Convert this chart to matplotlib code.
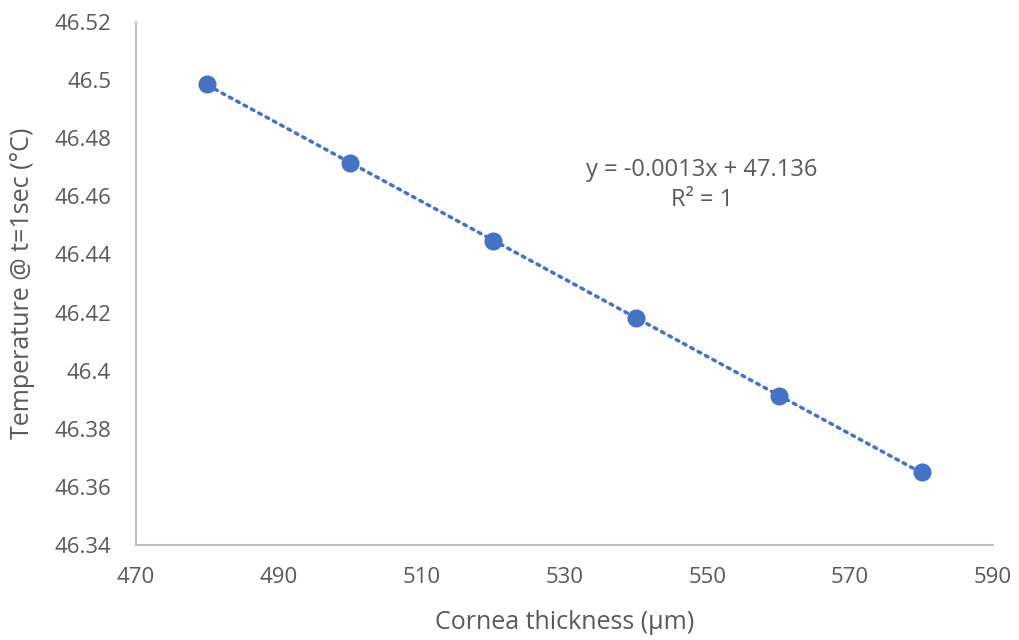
import numpy as np
import matplotlib.pyplot as plt

plt.rcParams['font.family'] = ['Open Sans', 'DejaVu Sans']

thickness = [480, 500, 520, 540, 560, 580]
temperature = [46.4985, 46.4715, 46.4448, 46.418, 46.3913, 46.3652]
x_ticks = [470, 490, 510, 530, 550, 570, 590]
y_ticks = [46.34, 46.36, 46.38, 46.40, 46.42, 46.44, 46.46, 46.48, 46.50, 46.52]
y_tick_labels = ['46.34', '46.36', '46.38', '46.4', '46.42', '46.44', '46.46', '46.48', '46.5', '46.52']

blue = '#4472C4'
grey = '#595959'

fig = plt.figure(figsize=(10.19, 6.4), dpi=100)
ax = fig.add_axes([0.1335, 0.1484, 0.841, 0.8172])

# linear trendline
coef = np.polyfit(thickness, temperature, 1)
xs = np.array([thickness[0], thickness[-1]])
ax.plot(xs, np.polyval(coef, xs), color=blue, lw=2.5, ls=(0, (0.8, 1.6)),
        dash_capstyle='round', zorder=2)
ax.plot(thickness, temperature, 'o', color=blue, ms=12, zorder=3)

ax.set_xlim(470, 590)
ax.set_ylim(46.34, 46.52)
ax.set_xticks(x_ticks)
ax.set_yticks(y_ticks)
ax.set_yticklabels(y_tick_labels)
ax.tick_params(length=0, labelsize=16, colors=grey, pad=18)
ax.tick_params(axis='x', pad=16)
for s in ['top', 'right']:
    ax.spines[s].set_visible(False)
for s in ['left', 'bottom']:
    ax.spines[s].set_color('#BFBFBF')
    ax.spines[s].set_linewidth(1.5)

ax.text(0.660, 0.717, 'y = -0.0013x + 47.136', transform=ax.transAxes,
        ha='center', va='center', fontsize=17, color=grey)
ax.text(0.660, 0.660, 'R² = 1', transform=ax.transAxes,
        ha='center', va='center', fontsize=17, color=grey)

ax.set_xlabel('Cornea thickness (µm)', fontsize=18, color=grey)
ax.set_ylabel('Temperature @ t=1sec (°C)', fontsize=18, color=grey)
ax.xaxis.set_label_coords(0.5, -0.125)
ax.yaxis.set_label_coords(-0.118, 0.5)

fig.savefig('out.png', dpi=100)
